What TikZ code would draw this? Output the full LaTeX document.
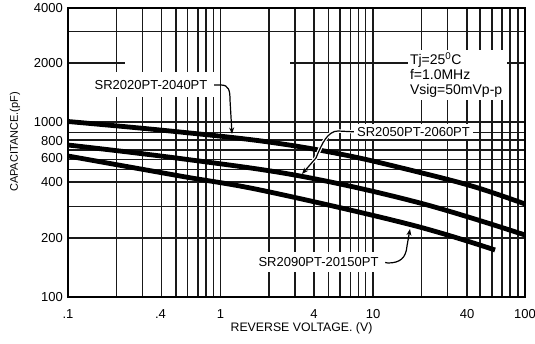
\documentclass[tikz,border=0pt]{standalone}
\usepackage{fontspec}
\setmainfont{Liberation Sans}
\usetikzlibrary{arrows.meta}
\begin{document}
\begin{tikzpicture}[x=1pt,y=-1pt,
  grid/.style={line width=1.6pt, line cap=butt, draw=black!90},
  frame/.style={line width=2pt},
  curve/.style={line width=4.8pt, line cap=butt},
  lbl/.style={fill=white, inner sep=0pt, font=\fontsize{13}{15}\selectfont},
  tick/.style={font=\fontsize{13}{15}\selectfont, inner sep=0pt},
  leader/.style={line width=1.2pt, -{Stealth[length=6.5pt,width=5pt]}},
  halo/.style={line width=3.6pt, white},
]
\useasboundingbox (0,0) rectangle (535,344);
\fill[white] (0,0) rectangle (535,344);
% vertical grid lines
\foreach \x in {116.5,142.5,161.5,176,187.5,198,206,213.3,220.5,
                269,295,314,328.3,340,350.5,358.3,365.5,373,
                421.5,447.3,466.7,480,491.7,501.7,510,518}
  \draw[grid] (\x,8.5) -- (\x,297.5);
% horizontal grid lines
\foreach \y in {31.7,122,132.5,140,150,159.5,169.5,182.3,206.7,238.3}
  \draw[grid] (68,\y) -- (525,\y);
\draw[grid] (68,63.3) -- (125,63.3);
\draw[grid] (290,63.3) -- (525,63.3);
\draw[frame] (68,8.5) rectangle (525,297.5);
% label boxes
\node[lbl, minimum width=126pt, minimum height=25pt] (l1) at (151,85) {SR2020PT-2040PT};
\node[lbl, font=\fontsize{14}{15}\selectfont, minimum width=99pt, minimum height=50pt,
      text width=95pt, align=left] (cond) at (457.5,75)
      {Tj=25\textsuperscript{0}C\\f=1.0MHz\\Vsig=50mVp-p};
\node[lbl, minimum width=119pt, minimum height=15pt] (l2) at (413.5,131.8) {SR2050PT-2060PT};
\node[lbl, minimum width=133pt, minimum height=20pt] (l3) at (318.5,262.5) {SR2090PT-20150PT};
% curves
\draw[curve] plot[smooth, tension=0.6] coordinates
  {(68,121.5) (165,130.5) (265,141.5) (345,155) (418,172) (475,187) (525,204)};
\draw[curve] plot[smooth, tension=0.6] coordinates
  {(68,145) (180,158.5) (300,176) (420,203) (525,235)};
\draw[curve] plot[smooth, tension=0.6] coordinates
  {(68,156) (180,176) (265,191) (410,224.5) (495,250)};
% leaders
\draw[leader] (l1.east) -- (221,85) .. controls (229,85) and (230,91) .. (230,100) -- (232,134);
\draw[halo] (l2.west) -- (338,131) .. controls (328,131) and (322,143) .. (316,158) -- (307,168);
\draw[leader] (l2.west) -- (338,131) .. controls (328,131) and (322,143) .. (316,158) -- (302,174);
\draw[leader] (l3.east) -- (388,263) .. controls (400,263) and (406,258) .. (407,246) -- (410,229);
% tick labels
\foreach \x/\t [count=\i] in {68/.1, 160.5/.4, 220.5/1, 314/4, 373/10, 467/40, 525/100}
  \node[tick] (xt\i) at (\x,314) {\t};
\foreach \y/\t [count=\i] in {8.5/4000, 63.3/2000, 122/1000, 141/800, 158.5/600, 182.3/400, 238.3/200, 297.5/100}
  \node[tick, anchor=east] (yt\i) at (63,\y) {\t};
% axis titles
\node[font=\fontsize{12.3}{14}\selectfont, anchor=base, inner sep=0pt] (xlab) at (301.5,331) {REVERSE VOLTAGE. (V)};
\node[font=\fontsize{11}{13}\selectfont, rotate=90, inner sep=0pt] (ylab) at (15,142) {CAPACITANCE.(pF)};
\end{tikzpicture}
\end{document}
